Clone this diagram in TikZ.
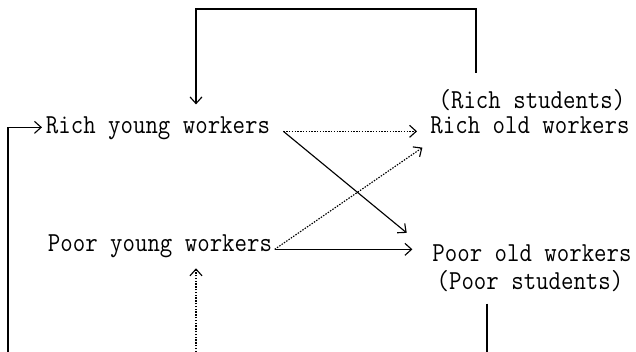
\documentclass[tikz,border=0pt]{standalone}
\usepackage{fontspec}
\setmonofont[FakeStretch=0.88]{Latin Modern Mono}
\usetikzlibrary{arrows.meta}
\tikzset{
  cohort/.style={font=\ttfamily\fontsize{20.6pt}{24pt}\selectfont, inner sep=0pt, outer xsep=10pt, text height=14pt, text depth=10pt, anchor=base},
  flow/.style={-{Straight Barb[length=5pt,width=9pt]}, line width=0.85pt},
  weak/.style={flow, dash pattern=on 1.1pt off 1pt},
}
\begin{document}
\begin{tikzpicture}[x=0.75pt,y=-0.75pt]
\useasboundingbox (0,0) rectangle (636,352);
%young workers
\node[cohort] (ryw) at (158,134) {Rich young workers};
\node[cohort, outer xsep=2pt] (pyw) at (160,252) {Poor young workers};
%old workers
\node[cohort] (row) at (530,134) {Rich old workers};
\node[cohort] (rs) at (532,109) {(Rich students)};
\node[cohort] (pow) at (532,262) {Poor old workers};
\node[cohort] (ps) at (530,290) {(Poor students)};

%loop ends
\coordinate (topL) at (196,9);
\coordinate (topR) at (476,9);
\coordinate (botL) at (8,352);
\coordinate (botM) at (196,352);
\coordinate (botR) at (487,352);

%flows
\draw[weak] (ryw.east) -- (row.west);
\draw[flow, shorten >=12pt] (ryw.east) -- (pow.north west);
\draw[weak] (pyw.east) -- ([xshift=4pt]row.south west);
\draw[flow, shorten >=5pt] (pyw.east) -- (pyw.east -| pow.west);

%loops
\draw[flow, shorten <=13pt, shorten >=8pt] (topR |- rs.north) -- (topR) -- (topL) -- (topL |- ryw.north);
\draw[flow] (botL) |- ([xshift=7pt,yshift=3pt]ryw.west);
\draw[weak, shorten >=2pt] (botM) -- (botM |- pyw.south);
\draw[line width=0.85pt] (botR |- ps.south) -- (botR);
\end{tikzpicture}
\end{document}
